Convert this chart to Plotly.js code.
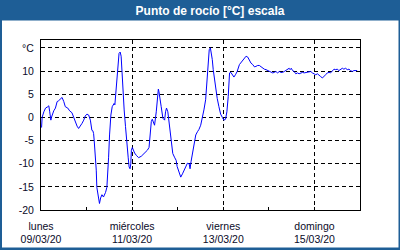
<!DOCTYPE html>
<html><head><meta charset="utf-8">
<script src="https://cdn.plot.ly/plotly-3.0.1.min.js"></script>
<style>html,body{margin:0;padding:0;background:#fff}#chart{width:400px;height:250px}</style>
</head><body><div id="chart"></div>
<script>
// Time in hours since 09/03/20 00:00
const hoursSinceStart = [
0.3,0.6,1.5,2.4,3.6,4.1,4.6,5.2,5.5,6.0,6.7,7.6,8.5,9.3,10.2,11.1,12.0,12.8,14.1,15.1,16.3,17.2,18.1,19.0,19.8,20.7,21.6,22.5,23.3,24.2,25.1,26.0,26.3,26.8,27.3,27.7,28.0,28.6,29.1,29.4,30.3,30.8,31.4,32.1,32.9,33.5,34.0,34.7,35.2,35.6,36.1,
36.8,37.5,38.0,38.5,38.9,39.4,39.9,40.6,41.1,41.7,42.2,42.7,43.2,43.8,44.5,45.1,45.9,46.4,46.9,47.3,47.6,48.1,48.6,49.3,50.2,51.4,52.8,54.6,56.0,56.9,57.4,58.1,58.6,59.1,59.8,60.7,61.2,61.8,62.1,62.6,63.3,64.2,65.1,65.6,66.1,66.8,67.3,67.9,68.6,69.4,70.3,71.2,71.7,
72.7,73.6,74.5,75.4,76.2,77.1,78.0,78.5,79.0,79.7,80.6,81.5,82.4,83.2,84.1,85.0,85.8,86.7,87.2,87.8,88.3,88.6,89.2,89.5,90.2,90.7,91.4,92.1,92.8,93.7,94.6,95.5,96.3,97.2,97.9,98.6,99.3,100.0,100.7,101.6,102.4,103.3,
104.5,105.9,107.1,108.0,108.9,109.7,110.6,111.5,112.4,113.2,114.1,115.0,115.9,116.7,117.6,118.5,119.3,120.2,121.1,122.0,122.8,123.7,124.6,125.5,126.3,127.2,128.1,129.0,129.8,130.7,131.2,131.8,132.5,133.3,134.2,135.1,135.9,136.8,137.7,138.6,139.4,140.3,141.2,142.1,142.9,143.8,144.7,145.6,146.4,147.3,148.2,149.1,149.9,150.8,151.7,152.5,153.4,154.3,155.2,156.0,156.9,157.8,158.7,159.5,160.4,161.3,162.2,163.0,163.9,164.8,165.6,166.5
];
// Dew point [°C]
const dewPoint = [
-2.2,0,1.2,2.0,2.3,2.5,1.2,-0.6,0,0.7,1.4,2.0,3.4,3.6,3.9,4.3,3.4,2.3,2.0,1.4,1.0,0,-0.6,-1.9,-2.4,-1.9,-1.3,-0.6,0.3,0.7,0.5,-0.6,-2.2,-2.8,-2.9,-3.5,-4.9,-7.8,-11.4,-15.1,-17.2,-18.6,-17.4,-16.7,-17.2,-16.7,-16.2,-15.1,-12.2,-8.6,-3.8,
0.5,2.3,2.7,3.0,2.7,5.2,8.1,11.7,13.8,14.1,13.2,9.6,5.2,1.6,-2.0,-5.7,-8.6,-10.7,-11.1,-10.0,-7.1,-6.5,-7.1,-7.7,-8.2,-8.7,-8.4,-7.7,-7.1,-6.5,-3.1,-0.9,-0.4,-0.9,-1.7,1.2,3.8,6.1,5.6,4.5,2.3,-0.2,-0.6,1.2,2.0,1.2,-0.6,-2.8,-5.7,-7.8,-8.6,-9.3,-10.6,
-11.8,-12.9,-12.2,-11.4,-10.7,-9.9,-10.0,-11.1,-9.6,-7.8,-5.7,-3.8,-3.1,-2.6,-1.7,-0.2,1.6,3.8,6.7,9.9,13.2,14.6,15.0,14.3,12.5,10.3,7.8,5.9,4.1,2.3,0.7,0,-0.6,-0.4,1.2,4.5,9.6,9.7,9.2,8.7,9.2,9.9,
11.4,12.1,12.8,13.2,13.0,12.3,11.7,11.4,10.9,11.0,11.2,11.2,10.9,10.6,10.4,10.3,10.1,9.9,9.7,9.6,9.7,9.9,9.6,9.9,9.7,9.7,9.9,10.1,10.3,10.6,10.3,10.6,10.1,9.9,9.4,9.6,9.4,9.6,9.7,9.6,9.7,9.7,9.9,9.9,9.6,9.4,9.2,9.4,9.0,8.8,8.5,8.8,9.2,9.6,9.7,9.6,9.9,10.4,10.3,10.4,10.1,10.4,10.6,10.4,10.6,10.3,10.4,10.1,9.9,10.1,10.1,10.1
];
const labelDays = ["2020-03-09","2020-03-11","2020-03-13","2020-03-15"];
const labelText = ["lunes<br>09/03/20","miércoles<br>11/03/20","viernes<br>13/03/20","domingo<br>15/03/20"];
const minorDays = ["2020-03-10","2020-03-12","2020-03-14"];
const yTicks = [-20,-15,-10,-5,0,5,10,15];
const yTickText = ["-20","-15","-10","-5","0","5","10","°C"];
const xRange = ["2020-03-09 00:00","2020-03-16 00:00"];
const yRange = [-20, 16.7];

const start = Date.UTC(2020,2,9);
function fmt(ms){const d=new Date(ms);const p=n=>String(n).padStart(2,'0');
 return d.getUTCFullYear()+"-"+p(d.getUTCMonth()+1)+"-"+p(d.getUTCDate())+" "+p(d.getUTCHours())+":"+p(d.getUTCMinutes())+":"+p(d.getUTCSeconds());}
const xs = hoursSinceStart.map(h=>fmt(start+h*3600000));

const blue = "#1e5e96";
const font = {family:"Liberation Sans, Arial, sans-serif", size:10.5, color:"#0a0a28"};
const L=41,R=360,T=40,B=210;
const px = v=>(v-L)/(R-L), py=v=>(B-v)/(B-T);

Plotly.newPlot("chart",[{
  x: xs, y: dewPoint, type:"scatter", mode:"lines",
  line:{color:"#0000ff", width:1}, hoverinfo:"skip"
}],{
  width:400, height:250,
  margin:{l:L, r:400-R, t:T, b:250-B, pad:0},
  paper_bgcolor: blue, plot_bgcolor:"#fff",
  showlegend:false,
  title:{text:"Punto de rocío [°C] escala", font:{family:"Liberation Sans, Arial, sans-serif", size:12, color:"#fff", weight:"bold"},
    xref:"container", x:0.525, xanchor:"center", yref:"container", y:1-10.5/250, yanchor:"middle"},
  font: font,
  xaxis:{type:"date", range:xRange, tickmode:"array", tickvals:labelDays, ticktext:labelText,
    showgrid:true, gridcolor:"#000", gridwidth:1, griddash:"4px,3px",
    showline:true, mirror:true, linecolor:"#000", linewidth:1,
    ticks:"inside", ticklen:3, tickcolor:"#000", tickfont:font, ticklabelstandoff:6,
    minor:{tickmode:"array", tickvals:minorDays, ticks:"inside", ticklen:3, tickcolor:"#000", showgrid:false},
    zeroline:false, fixedrange:true},
  yaxis:{range:yRange, tickmode:"array", tickvals:yTicks, ticktext:yTickText,
    showgrid:true, gridcolor:"#000", gridwidth:1, griddash:"4px,3px",
    showline:true, mirror:true, linecolor:"#000", linewidth:1,
    ticks:"", tickfont:font, ticklabelstandoff:4, zeroline:false, fixedrange:true},
  shapes:[{type:"rect", xref:"paper", yref:"paper", layer:"below",
    x0:px(2), x1:px(398.5), y0:py(247.5), y1:py(20.5), fillcolor:"#fff", line:{width:0}}]
},{displayModeBar:false, staticPlot:true});
</script></body></html>
